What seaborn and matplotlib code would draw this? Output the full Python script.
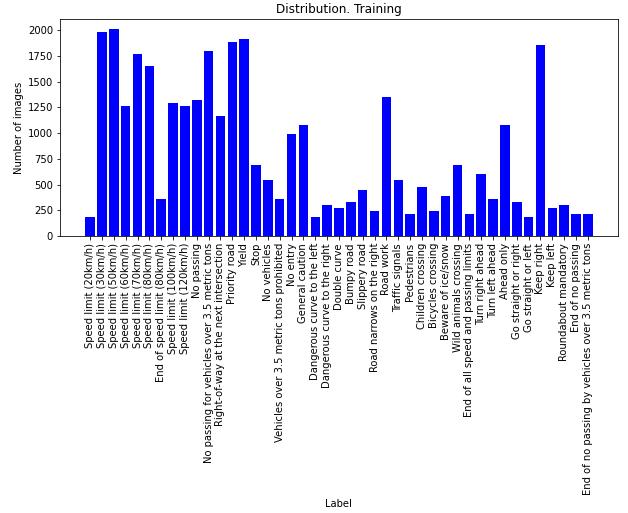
import matplotlib
matplotlib.use("Agg")
import matplotlib.pyplot as plt
import seaborn as sns
import pandas as pd

# sign names and training image counts per class
labels = [
    "Speed limit (20km/h)", "Speed limit (30km/h)", "Speed limit (50km/h)",
    "Speed limit (60km/h)", "Speed limit (70km/h)", "Speed limit (80km/h)",
    "End of speed limit (80km/h)", "Speed limit (100km/h)", "Speed limit (120km/h)",
    "No passing", "No passing for vehicles over 3.5 metric tons",
    "Right-of-way at the next intersection", "Priority road", "Yield", "Stop",
    "No vehicles", "Vehicles over 3.5 metric tons prohibited", "No entry",
    "General caution", "Dangerous curve to the left", "Dangerous curve to the right",
    "Double curve", "Bumpy road", "Slippery road", "Road narrows on the right",
    "Road work", "Traffic signals", "Pedestrians", "Children crossing",
    "Bicycles crossing", "Beware of ice/snow", "Wild animals crossing",
    "End of all speed and passing limits", "Turn right ahead", "Turn left ahead",
    "Ahead only", "Go straight or right", "Go straight or left", "Keep right",
    "Keep left", "Roundabout mandatory", "End of no passing",
    "End of no passing by vehicles over 3.5 metric tons",
]
counts = [180, 1980, 2010, 1260, 1770, 1650, 360, 1290, 1260, 1320, 1800, 1170,
          1890, 1920, 690, 540, 360, 990, 1080, 180, 300, 270, 330, 450, 240,
          1350, 540, 210, 480, 240, 390, 690, 210, 599, 360, 1080, 330, 180,
          1860, 270, 300, 210, 210]

df = pd.DataFrame({"label": labels, "count": counts})

fig = plt.figure(figsize=(628 / 72, 513 / 72), dpi=72)
ax = fig.add_axes([60 / 628, 1 - 236 / 513, 558 / 628, 217 / 513])

sns.barplot(data=df, x="label", y="count", color="blue", saturation=1,
            width=0.8, ax=ax)

n = len(labels)
pad = 0.05 * (n - 1 + 0.8) + 0.4
ax.set_xlim(-pad, n - 1 + pad)
ax.set_ylim(0, 2110)
ax.set_yticks(range(0, 2001, 250))
plt.xticks(rotation=90)
ax.tick_params(labelsize=10)
ax.set_title("Distribution. Training", fontsize=12)
ax.set_ylabel("Number of images", fontsize=10)
ax.set_xlabel("")
fig.text(338 / 628, 1 - 504 / 513, "Label", ha="center", va="center", fontsize=10)

plt.savefig("out.png", dpi=72)
plt.close()
